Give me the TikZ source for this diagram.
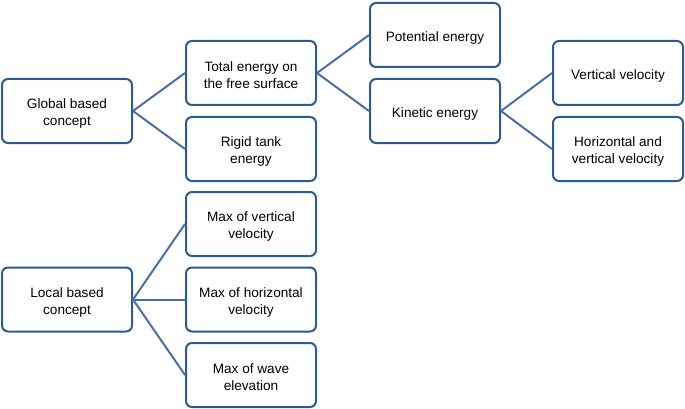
\documentclass[tikz,border=0pt]{standalone}
\usepackage{fontspec}
\setmainfont{Liberation Sans}
\definecolor{boxline}{HTML}{2C5A92}
\definecolor{conn}{HTML}{4A70A2}
\begin{document}
\begin{tikzpicture}[x=1pt,y=-1pt,
  box/.style={draw=boxline,line width=2pt,rounded corners=6pt,minimum width=130pt,minimum height=64pt,inner sep=0pt},
  lbl/.style={align=center,inner sep=0pt,yshift=-2.5pt,font=\fontsize{13.6}{17}\selectfont,text=black},
  link/.style={draw=conn,line width=2pt}]
\useasboundingbox (0,0) rectangle (685,409);
\node[box,label={[lbl]center:{Global based\\concept}}] (glob) at (67,111) {};
\node[box,label={[lbl]center:{Total energy on\\the free surface}}] (tot) at (251,73) {};
\node[box,label={[lbl]center:{Rigid tank\\energy}}] (rig) at (251,149) {};
\node[box,label={[lbl]center:{Potential energy}}] (pot) at (435,35) {};
\node[box,label={[lbl]center:{Kinetic energy}}] (kin) at (435,111) {};
\node[box,label={[lbl]center:{Vertical velocity}}] (vv) at (618,73) {};
\node[box,label={[lbl]center:{Horizontal and\\vertical velocity}}] (hv) at (618,149) {};
\node[box,label={[lbl]center:{Local based\\concept}}] (loc) at (67,299.5) {};
\node[box,label={[lbl]center:{Max of vertical\\velocity}}] (mv) at (251,224) {};
\node[box,label={[lbl]center:{Max of horizontal\\velocity}}] (mh) at (251,299.5) {};
\node[box,label={[lbl]center:{Max of wave\\elevation}}] (mw) at (251,375) {};
\draw[link] (glob.east) -- (tot.west);
\draw[link] (glob.east) -- (rig.west);
\draw[link] (tot.east) -- (pot.west);
\draw[link] (tot.east) -- (kin.west);
\draw[link] (kin.east) -- (vv.west);
\draw[link] (kin.east) -- (hv.west);
\draw[link] (loc.east) -- (mv.west);
\draw[link] (loc.east) -- (mh.west);
\draw[link] (loc.east) -- (mw.west);
\end{tikzpicture}
\end{document}
